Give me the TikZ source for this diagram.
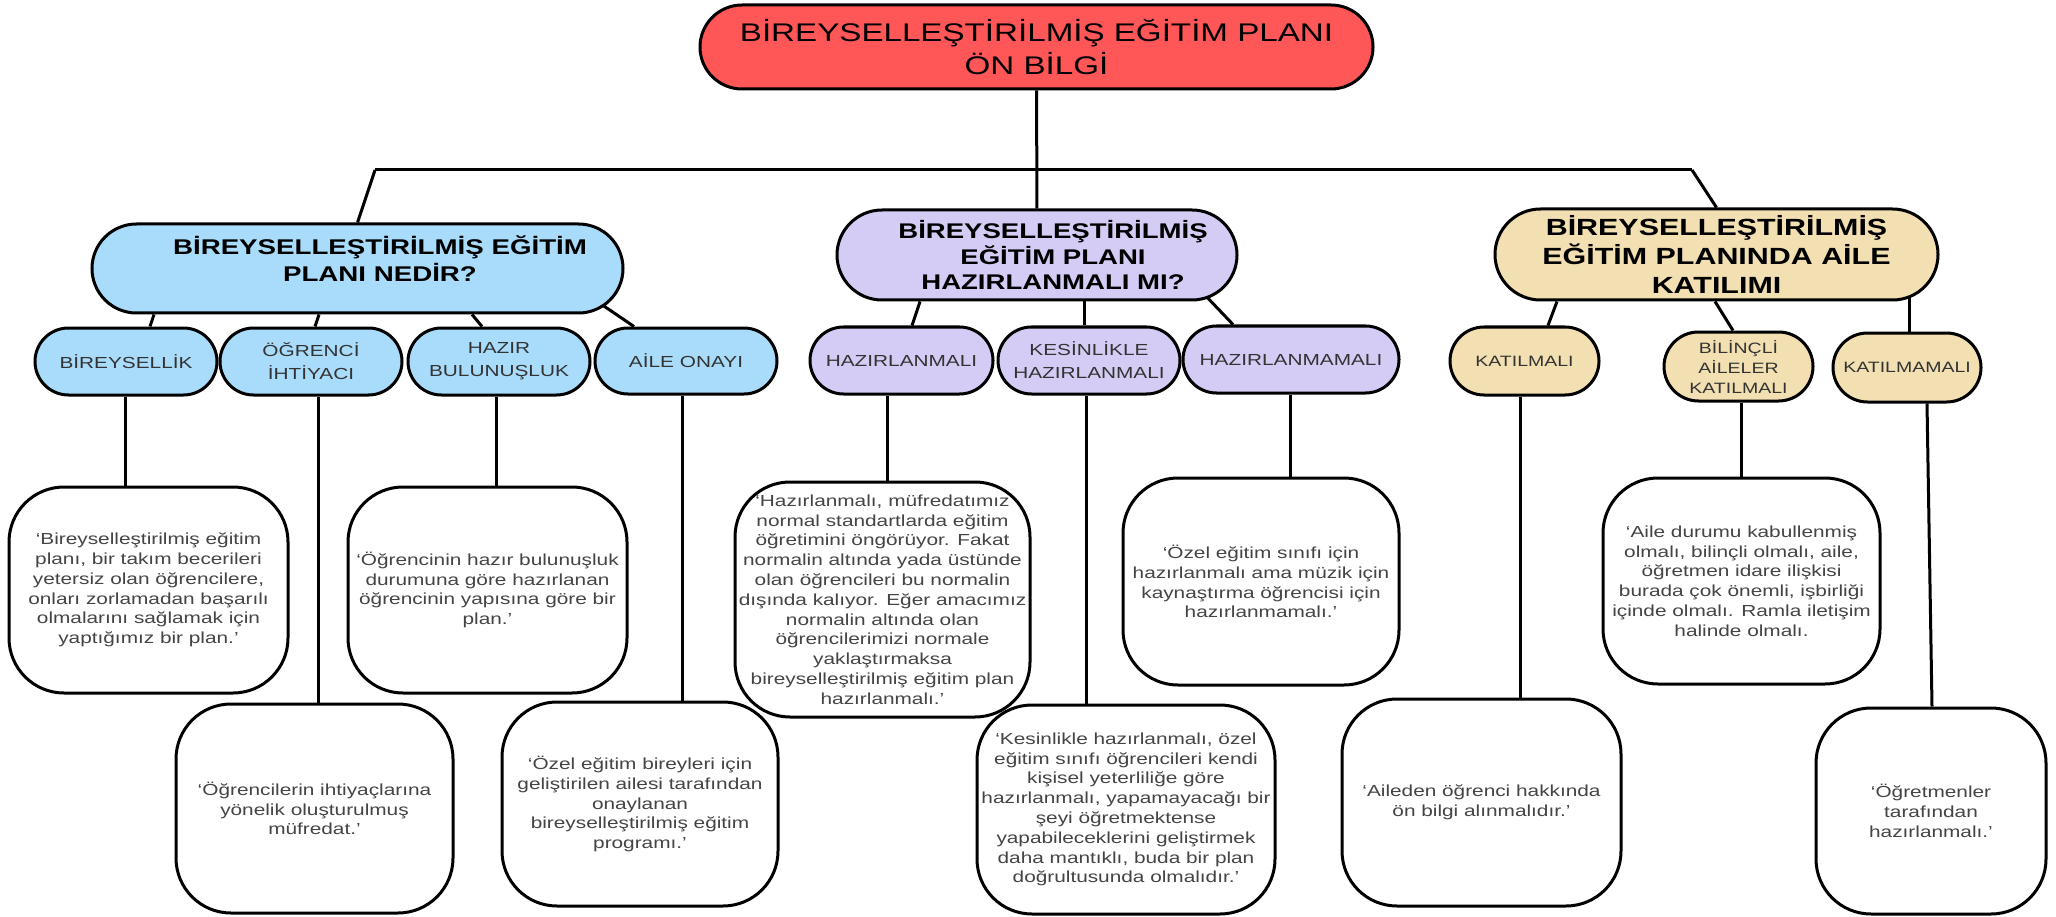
\documentclass[tikz,border=0pt]{standalone}
\usepackage{fontspec}
\setmainfont{Liberation Sans}[FakeStretch=1.3]
\usetikzlibrary{backgrounds,calc}

\definecolor{rootred}{HTML}{FF5757}
\definecolor{nedirblue}{HTML}{A9DCFB}
\definecolor{hazirpurple}{HTML}{D4CCF5}
\definecolor{ailebeige}{HTML}{F2DFB2}
\definecolor{smalltxt}{HTML}{333333}
\definecolor{notetxt}{HTML}{444444}

\begin{document}
\begin{tikzpicture}[x=1pt,y=-1pt,
    size/.style 2 args={minimum width=#1pt,minimum height=#2pt},
    pill/.style={draw,line width=3pt,inner sep=0pt,align=center},
    hdrtxt/.style={align=center,inner sep=0pt,font=\bfseries\fontsize{21.3}{27}\selectfont},
    small/.style={pill,text=smalltxt,font=\fontsize{16}{23}\selectfont},
    smallb/.style={pill,text=smalltxt,fill=ailebeige,font=\fontsize{15}{20}\selectfont},
    note/.style={pill,fill=white,rounded corners=55pt,text=notetxt,font=\fontsize{16}{19.8}\selectfont},
    link/.style={line width=3pt}]
  \useasboundingbox (0,0) rectangle (2056,917);

  % Root
  \node[pill,fill=rootred,size={673}{84},rounded corners=42pt,
        font=\fontsize{25.5}{33}\selectfont] (root) at (1036.5,47)
        {BİREYSELLEŞTİRİLMİŞ EĞİTİM PLANI\\ÖN BİLGİ};

  % Headers
  \node[pill,fill=nedirblue,size={531}{89},rounded corners=44.5pt,
        label={[hdrtxt,xshift=22.5pt,yshift=10pt]center:{BİREYSELLEŞTİRİLMİŞ EĞİTİM\\PLANI NEDİR?}}]
        (nedir) at (357.5,268.5) {};
  \node[pill,fill=hazirpurple,size={400}{90},rounded corners=45pt,
        label={[hdrtxt,xshift=16pt,font=\bfseries\fontsize{21.2}{25.5}\selectfont]center:{BİREYSELLEŞTİRİLMİŞ\\EĞİTİM PLANI\\HAZIRLANMALI MI?}}]
        (hazir) at (1037,255) {};
  \node[pill,fill=ailebeige,size={443}{91},rounded corners=45.5pt,
        font=\bfseries\fontsize{23.4}{29}\selectfont] (katilim) at (1716.5,254.5)
        {BİREYSELLEŞTİRİLMİŞ\\EĞİTİM PLANINDA AİLE\\KATILIMI};

  % Small nodes
  \node[small,fill=nedirblue,size={182}{67},rounded corners=33.5pt] (bireysellik) at (126,361.5) {BİREYSELLİK};
  \node[small,fill=nedirblue,size={182}{67},rounded corners=33.5pt] (ihtiyac) at (311,361.5) {ÖĞRENCİ\\İHTİYACI};
  \node[small,fill=nedirblue,size={182}{67},rounded corners=33.5pt] (hazirbul) at (499,361.5) {HAZIR\\BULUNUŞLUK};
  \node[small,fill=nedirblue,size={182}{66},rounded corners=33pt] (aileonay) at (686,361) {AİLE ONAYI};
  \node[small,fill=hazirpurple,size={183}{67},rounded corners=33.5pt] (hzrmali) at (901.5,360.5) {HAZIRLANMALI};
  \node[small,fill=hazirpurple,size={182}{67},rounded corners=33.5pt] (kesinlikle) at (1089,360.5) {KESİNLİKLE\\HAZIRLANMALI};
  \node[small,fill=hazirpurple,size={216}{67},rounded corners=33.5pt] (hzrmamali) at (1291,359.5) {HAZIRLANMAMALI};
  \node[smallb,size={149}{68},rounded corners=34pt] (katilmali) at (1524.5,361) {KATILMALI};
  \node[smallb,size={149}{69},rounded corners=34.5pt] (bilincli) at (1738.5,366.5) {BİLİNÇLİ\\AİLELER\\KATILMALI};
  \node[smallb,size={148}{69},rounded corners=34.5pt] (katilmamali) at (1907,367.5) {KATILMAMALI};

  % Notes
  \node[note,size={279}{206}] (bireysellikN) at (148.5,590)
    {‘Bireyselleştirilmiş eğitim\\planı, bir takım becerileri\\yetersiz olan öğrencilere,\\onları zorlamadan başarılı\\olmalarını sağlamak için\\yaptığımız bir plan.’};
  \node[note,size={277}{209}] (ihtiyacN) at (314.5,808.5)
    {‘Öğrencilerin ihtiyaçlarına\\yönelik oluşturulmuş\\müfredat.’};
  \node[note,size={279}{206}] (hazirbulN) at (487.5,590)
    {‘Öğrencinin hazır bulunuşluk\\durumuna göre hazırlanan\\öğrencinin yapısına göre bir\\plan.’};
  \node[note,size={276}{204}] (aileonayN) at (640,804)
    {‘Özel eğitim bireyleri için\\geliştirilen ailesi tarafından\\onaylanan\\bireyselleştirilmiş eğitim\\programı.’};
  \node[note,size={295}{235}] (hzrmaliN) at (882.5,599.5)
    {‘Hazırlanmalı, müfredatımız\\normal standartlarda eğitim\\öğretimini öngörüyor. Fakat\\normalin altında yada üstünde\\olan öğrencileri bu normalin\\dışında kalıyor. Eğer amacımız\\normalin altında olan\\öğrencilerimizi normale\\yaklaştırmaksa\\bireyselleştirilmiş eğitim plan\\hazırlanmalı.’};
  \node[note,size={298}{209}] (kesinlikleN) at (1126,809.5)
    {‘Kesinlikle hazırlanmalı, özel\\eğitim sınıfı öğrencileri kendi\\kişisel yeterliliğe göre\\hazırlanmalı, yapamayacağı bir\\şeyi öğretmektense\\yapabileceklerini geliştirmek\\daha mantıklı, buda bir plan\\doğrultusunda olmalıdır.’};
  \node[note,size={276}{207}] (hzrmamaliN) at (1261,581.5)
    {‘Özel eğitim sınıfı için\\hazırlanmalı ama müzik için\\kaynaştırma öğrencisi için\\hazırlanmamalı.’};
  \node[note,size={277}{206}] (bilincliN) at (1741.5,581)
    {‘Aile durumu kabullenmiş\\olmalı, bilinçli olmalı, aile,\\öğretmen idare ilişkisi\\burada çok önemli, işbirliği\\içinde olmalı. Ramla iletişim\\halinde olmalı.};
  \node[note,size={279}{207}] (katilmaliN) at (1481.5,802.5)
    {‘Aileden öğrenci hakkında\\ön bilgi alınmalıdır.’};
  \node[note,size={230}{206}] (katilmamaliN) at (1931,811)
    {‘Öğretmenler\\tarafından\\hazırlanmalı.’};

  % Connectors
  \begin{pgfonlayer}{background}
    \coordinate (barL) at (375,170);
    \coordinate (barR) at (1692,170);
    \draw[link] (root) -- (hazir);
    \draw[link] (barL) -- (barR);
    \draw[link] (barL) -- (nedir.north);
    \draw[link] (barR) -- (katilim.north);
    \foreach \p/\xa/\c/\xb in {nedir/154/bireysellik/150, nedir/319/ihtiyac/315,
        nedir/472/hazirbul/482, hazir/920/hzrmali/912, hazir/1084/kesinlikle/1084,
        katilim/1557/katilmali/1548, katilim/1715/bilincli/1733}
      \draw[link] (\p.south -| \xa,0) -- (\c.north -| \xb,0);
    \draw[link] ($(nedir.south)+(225,-23)$) -- (aileonay.north -| 634,0);
    \draw[link] ($(hazir.south)+(155,-20)$) -- (hzrmamali.north -| 1233,0);
    \draw[link] (katilim.center -| 1909,0) -- (katilmamali.north -| 1909,0);
    \foreach \p/\xa/\xb in {bireysellik/125/125, ihtiyac/318/318, hazirbul/496/496,
        aileonay/682/682, hzrmali/887/887, kesinlikle/1086/1086, hzrmamali/1290/1290,
        katilmali/1520/1520, bilincli/1741/1741, katilmamali/1927/1932}
      \draw[link] (\p.south -| \xa,0) -- (\p N.north -| \xb,0);
  \end{pgfonlayer}
\end{tikzpicture}
\end{document}
